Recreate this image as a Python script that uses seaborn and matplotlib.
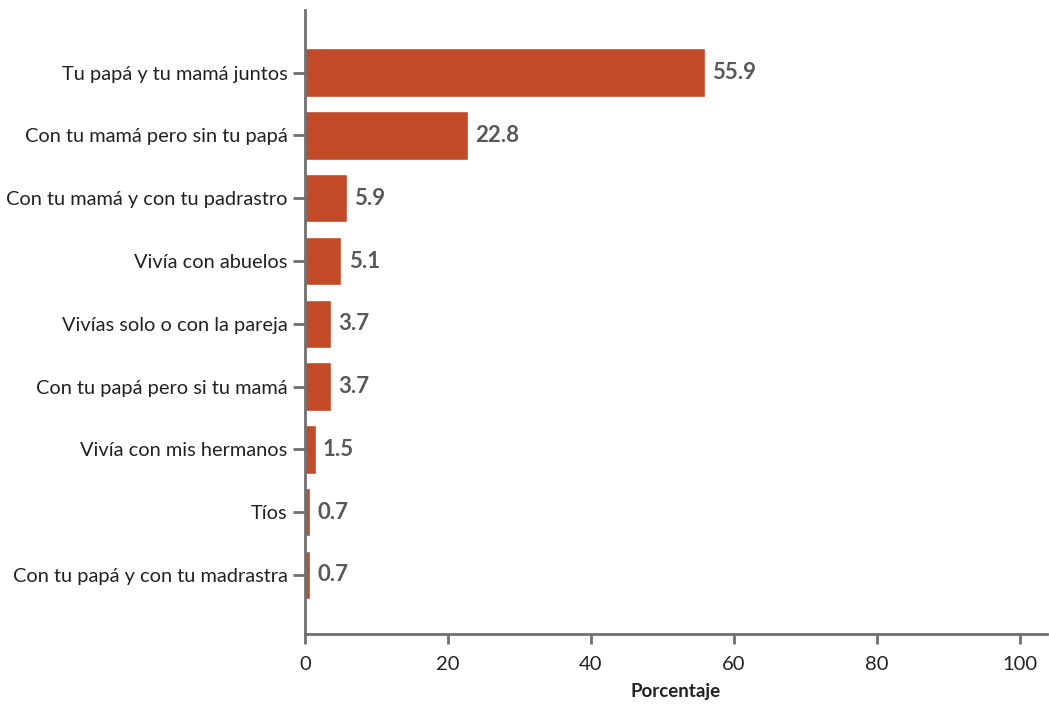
import pandas as pd
import matplotlib.pyplot as plt
import seaborn as sns

# Datos
categorias = [
    'Tu papá y tu mamá juntos',
    'Con tu mamá pero sin tu papá',
    'Con tu mamá y con tu padrastro',
    'Vivía con abuelos',
    'Vivías solo o con la pareja',
    'Con tu papá pero si tu mamá',
    'Vivía con mis hermanos',
    'Tíos',
    'Con tu papá y con tu madrastra',
]
porcentajes = [55.9, 22.8, 5.9, 5.1, 3.7, 3.7, 1.5, 0.7, 0.7]
ticks_x = [0, 20, 40, 60, 80, 100]

df = pd.DataFrame({'categoria': categorias, 'porcentaje': porcentajes})

sns.set_theme(style='white')
plt.rcParams['font.family'] = ['Lato', 'DejaVu Sans']

EJE = '#707070'
BARRA = '#C24A27'

fig = plt.figure(figsize=(10.49, 7.04), dpi=100)
ax = fig.add_axes([0.2908, 0.0994, 0.7072, 0.8866])

sns.barplot(data=df, x='porcentaje', y='categoria', orient='h',
            color=BARRA, width=0.77, saturation=1, ax=ax)

# etiquetas de valor
for i, v in enumerate(porcentajes):
    ax.text(v + 1.0, i, f'{v:.1f}', va='center', ha='left',
            fontsize=16, fontweight='bold', color='#595959')

ax.set_xlim(0, 103.8)
ax.set_ylim(8.94, -1.0)
ax.set_xticks(ticks_x)
ax.set_xticklabels([str(t) for t in ticks_x], fontsize=14.5, color='#222222')
ax.tick_params(axis='y', labelsize=14.4, labelcolor='#222222', left=True,
               length=8.5, width=2, color=EJE, pad=4)
ax.tick_params(axis='x', bottom=True, length=7, width=2, color=EJE, pad=9)

ax.set_ylabel('')
ax.set_xlabel('Porcentaje', fontsize=13.5, fontweight='bold', color='#222222', labelpad=7)

for lado in ['top', 'right']:
    ax.spines[lado].set_visible(False)
for lado in ['left', 'bottom']:
    ax.spines[lado].set_color(EJE)
    ax.spines[lado].set_linewidth(2)

fig.savefig('out.png', dpi=100)
